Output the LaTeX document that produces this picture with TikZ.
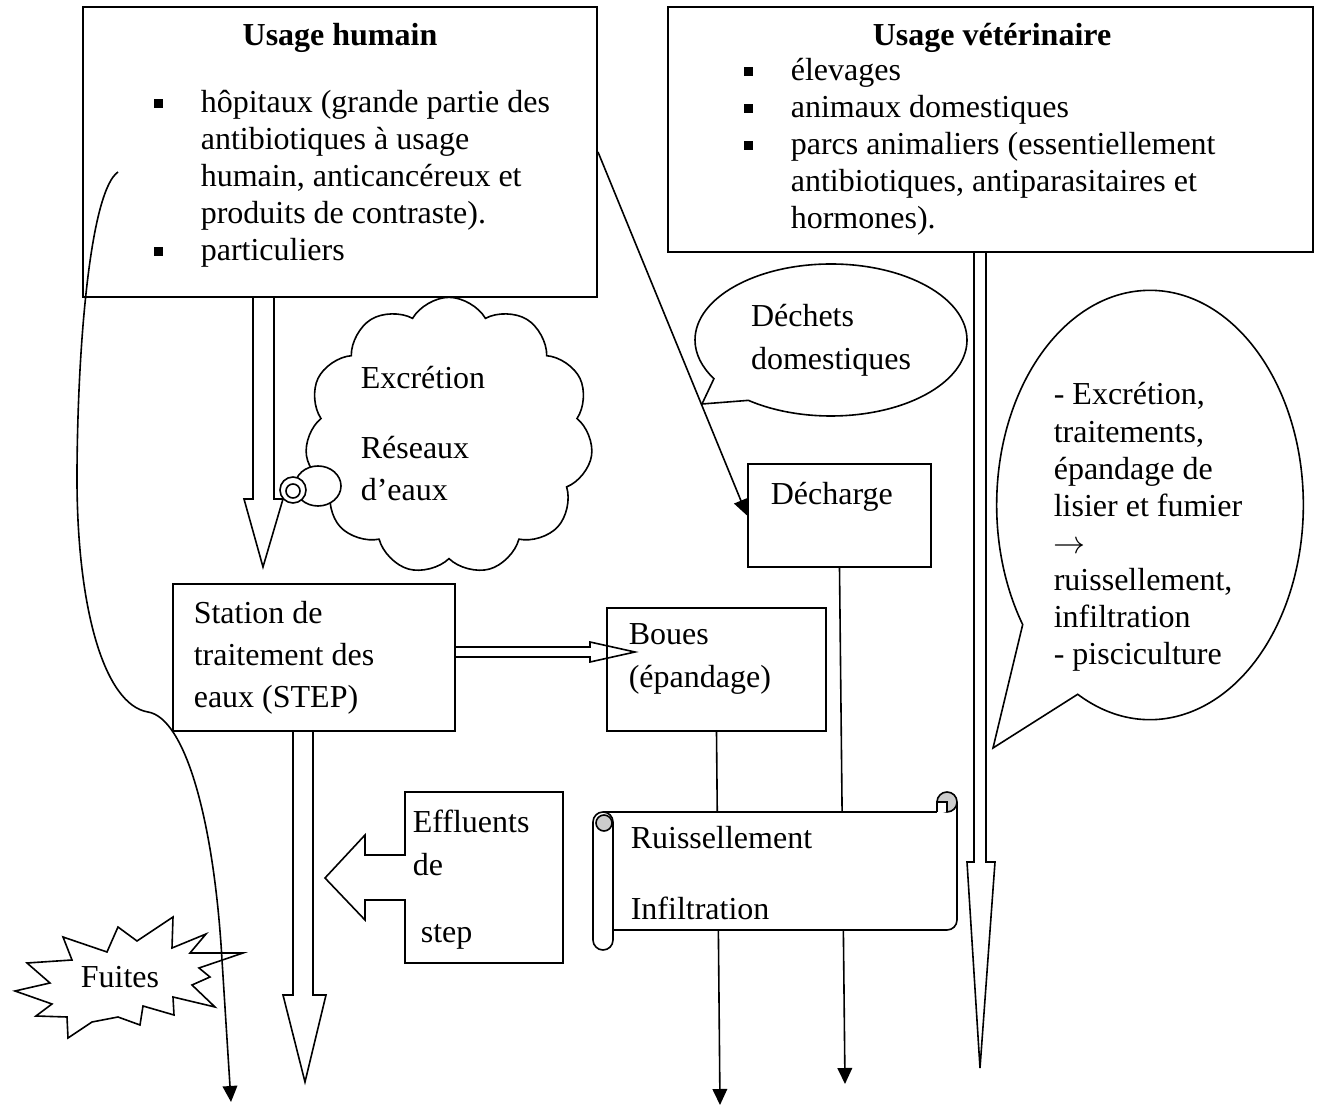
\documentclass[tikz,border=0pt]{standalone}
\usepackage{fontspec}
\setmainfont{Liberation Serif}
\usetikzlibrary{arrows.meta,fit,shapes.symbols,shapes.callouts}

\tikzset{
  boite/.style={draw, line width=0.75pt, inner sep=0pt},
  texte/.style={anchor=west, align=left, inner sep=0pt, font=\fontsize{12}{15.8}\selectfont},
  liste/.style={texte, font=\fontsize{12}{13.9}\selectfont},
  titre/.style={font=\fontsize{12}{13.9}\selectfont\bfseries},
  fleche/.style={-{Triangle[length=6pt,width=5.5pt]}},
  bloc/.style={draw, line width=0.6pt},
}

\begin{document}
\begin{tikzpicture}[x=0.375pt, y=-0.375pt, line width=0.6pt,
    every node/.style={font=\fontsize{12}{13.9}\selectfont}]
  \useasboundingbox (0,0) rectangle (1317,1110);

  % ==================================================
  % Usage humain (box top left)
  % ==================================================
  \node[boite, fit={(83,7) (597,297)}] (humain) {};
  \node[titre] (titreH) at (340,38) {Usage humain};
  \node[liste] (listeH) at (200,179) {hôpitaux (grande partie des\\antibiotiques à usage\\humain, anticancéreux et\\produits de contraste).\\particuliers};
  \foreach \y in {104,252}
    \fill (154,\y-4.5) rectangle ++(9,9);

  % ==================================================
  % Usage veterinaire (box top right)
  % ==================================================
  \node[boite, fit={(668,7) (1313,252)}] (veto) {};
  \node[titre] (titreV) at (992,38) {Usage vétérinaire};
  \node[liste] (listeV) at (790,147) {élevages\\animaux domestiques\\parcs animaliers (essentiellement\\antibiotiques, antiparasitaires et\\hormones).};
  \foreach \y in {72,109,146}
    \fill (744,\y-4.5) rectangle ++(9,9);

  % -- hollow arrow below Usage humain
  \draw[bloc] (253,297) -- (253,499) -- (244,499) -- (263,567)
    -- (283,499) -- (274,499) -- (274,297);

  % -- cloud Excretion / Reseaux d'eaux
  \node[cloud, draw, cloud puffs=11, cloud puff arc=120,
    minimum width=108pt, minimum height=104pt] (nuage) at (449,436) {};
  \filldraw[fill=white] (318,486) ellipse (23 and 20);
  \filldraw[fill=white] (293,490) circle (13);
  \draw (293,491) circle (7);
  \node[texte, font=\fontsize{12}{16.1}\selectfont] (reseaux) at (360,434)
    {Excrétion\\[9.8pt]Réseaux\\d’eaux};

  % -- Dechets domestiques
  \node[ellipse callout, draw, align=left, minimum width=102pt, minimum height=57pt,
    callout absolute pointer={(702,404)}, callout pointer arc=22,
    font=\fontsize{12}{16.1}\selectfont] (dechets) at (831,340) {Déchets\\domestiques};

  % ==================================================
  % Middle row: STEP, Boues, Decharge
  % ==================================================
  \node[boite, fit={(748,464) (931,567)}] (decharge) {};
  \node[texte] (txtDecharge) at (770,497) {Décharge};

  \node[boite, fit={(173,584) (455,731)}] (station) {};
  \node[texte] (txtStation) at (193,658) {Station de\\traitement des\\eaux (STEP)};

  \node[boite, fit={(607,608) (826,731)}] (boues) {};
  \node[texte] (txtBoues) at (628,659) {Boues\\(épandage)};

  %    STEP -> Boues (thin hollow arrow)
  \draw[bloc] (455,647) -- (590,647) -- (590,642) -- (635,652)
    -- (590,662) -- (590,657) -- (455,657);
  %    STEP -> down
  \draw[bloc] (293,731) -- (293,995) -- (283,995) -- (305,1082)
    -- (326,995) -- (313,995) -- (313,731);

  % -- Effluents de step (left arrow callout)
  \draw[bloc] (405,855) -- (365,855) -- (365,835) -- (325,878) -- (365,920)
    -- (365,900) -- (405,900) -- (405,963) -- (563,963) -- (563,792)
    -- (405,792) -- cycle;
  \node[texte, font=\fontsize{12}{16.1}\selectfont] (effluents) at (412,880)
    {Effluents\\de\\[9pt]\hspace*{3pt}step};

  % ==================================================
  % Right side: veterinary flow
  % ==================================================
  \draw[bloc] (974,252) -- (974,862) -- (967,862) -- (980,1068)
    -- (995,862) -- (986,862) -- (986,252);
  \node[ellipse callout, draw, minimum width=115pt, minimum height=161pt,
    callout absolute pointer={(993,748)}, callout pointer arc=28] (bulleV) at (1150,505) {};
  \node[liste] (txtBulleV) at (1053,527) {- Excrétion,\\traitements,\\épandage de\\lisier et fumier\\$\rightarrow$\\ruissellement,\\infiltration\\- pisciculture};

  % ==================================================
  % Connectors
  % ==================================================
  \coordinate (finD) at (845,1084);
  \coordinate (finB) at (720,1105);
  \coordinate (depF) at (118,172);
  \coordinate (finF) at (231,1102);

  \draw[fleche] (humain.east) -- (decharge.west);
  \draw[fleche] (decharge.south) -- (finD);
  \draw[fleche] (boues.south) -- (finB);
  %    long curve on the left (fuites)
  \draw[fleche] (depF) .. controls (92,190) and (78,330) .. (77,470)
    .. controls (76,610) and (105,705) .. (148,712)
    .. controls (185,718) and (214,820) .. (222,960) -- (finF);

  % -- Scroll Ruissellement / Infiltration (on top of the lines)
  \fill[white] (603,812) rectangle (957,930);
  \draw (603,812) -- (937,812);
  \draw[rounded corners=3.75pt] (957,802) -- (957,930) -- (613,930);
  \filldraw[fill=gray!40] (947,802) circle (10);
  \draw[fill=white] (937,812) -- (937,802) -- (947,802) -- (947,812);
  \filldraw[fill=white, rounded corners=3.75pt] (593,812) rectangle (613,950);
  \filldraw[fill=gray!40] (604,823) circle (8);
  \node[liste] (ruissel) at (630,873) {Ruissellement\\[12.4pt]Infiltration};

  % -- Fuites
  \draw (15,991) -- (50,983) -- (27,963) -- (72,960) -- (63,937) -- (107,952)
    -- (118,927) -- (137,941) -- (173,917) -- (172,948) -- (206,934)
    -- (190,953) -- (243,953) -- (199,968) -- (210,977) -- (192,985)
    -- (215,1007) -- (173,997) -- (174,1015) -- (143,1006) -- (140,1025)
    -- (118,1017) -- (92,1022) -- (68,1038) -- (67,1017) -- (36,1016)
    -- (52,1004) -- cycle;
  \node (fuites) at (120,977) {Fuites};

\end{tikzpicture}
\end{document}
